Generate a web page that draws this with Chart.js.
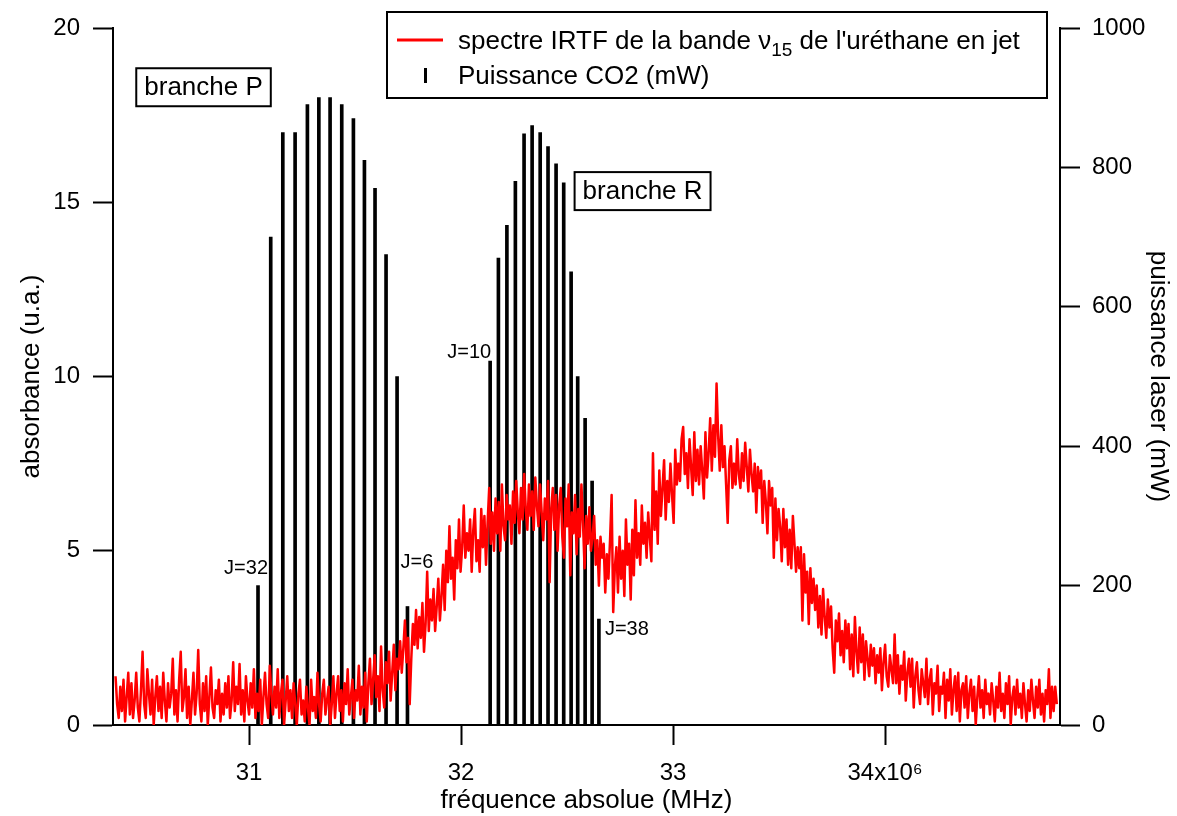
<!DOCTYPE html>
<html>
<head>
<meta charset="utf-8">
<script src="https://cdn.jsdelivr.net/npm/chart.js@4.4.0/dist/chart.umd.min.js"></script>
<style>
  html, body { margin: 0; padding: 0; background: #fff; }
</style>
</head>
<body>
<canvas id="myChart" width="1177" height="816"></canvas>
<script>
// spectre IRTF : grille en fréquence (x10^6 MHz) et absorbance
var freqStart = 30.37;
var freqStep = 0.0075;
var absorbance = [
  1.4, 0.6, 0.2, 1.1, 0.4, 1.3, 0.1, 0.8, 1.5, 0.3,
  1.2, 0.2, 0.7, 1.5, 0.5, 0.1, 1.0, 2.1, 0.6, 0.2,
  1.6, 0.9, 0.3, 1.3, 0.0, 0.8, 1.4, 0.4, 1.1, 0.2,
  1.5, 0.7, 0.1, 1.2, 0.5, 0.9, 1.9, 0.3, 1.0, 0.1,
  1.3, 2.1, 0.4, 0.8, 1.6, 0.2, 1.1, 0.0, 0.7, 1.5,
  0.3, 0.9, 2.15, 0.6, 0.1, 1.2, 0.4, 1.4, 0.0, 0.8,
  1.65, 0.5, 0.2, 1.0, 0.6, 1.3, 0.1, 0.9, 0.3, 1.2,
  0.5, 1.4, 0.2, 0.7, 1.8, 0.4, 1.1, 0.6, 1.75, 0.3,
  1.0, 0.1, 1.4, 0.7, 0.3, 1.2, 0.5, 1.6, 0.2, 0.9,
  0.4, 1.3, 0.0, 0.8, 1.5, 0.6, 0.2, 1.7, 0.9, 0.3,
  1.1, 0.5, 1.6, 0.2, 0.9, 1.3, 0.0, 0.7, 1.4, 0.4,
  1.0, 0.2, 1.2, 0.6, 0.0, 0.9, 1.3, 0.3, 0.7, 0.1,
  1.1, 0.5, 0.0, 1.3, 0.4, 0.8, 0.2, 1.5, 0.6, 0.1,
  0.9, 1.3, 0.3, 0.7, 1.1, 0.0, 0.6, 1.4, 0.2, 0.9,
  1.4, 0.4, 1.0, 0.1, 1.2, 0.6, 1.6, 0.3, 0.8, 1.3,
  0.2, 1.0, 0.7, 1.7, 0.3, 1.1, 0.5, 1.5, 0.1, 1.2,
  1.9, 0.6, 1.3, 2.0, 0.8, 1.4, 0.4, 2.25, 1.0, 0.5,
  1.8, 1.2, 2.1, 0.7, 1.5, 2.3, 1.0, 1.9, 1.6, 2.4,
  1.5, 2.2, 3.0, 1.8, 2.5, 0.6, 1.9, 2.9, 2.3, 3.3,
  2.2, 3.1, 2.5, 3.5, 2.1, 2.9, 4.4, 2.7, 3.6, 3.0,
  3.9, 2.7, 3.4, 4.2, 3.0, 3.7, 4.6, 3.3, 5.0, 4.1,
  5.7, 4.2, 4.8, 3.6, 5.3, 4.5, 5.9, 4.4, 5.1, 6.3,
  4.8, 5.5, 5.0, 5.9, 4.4, 5.6, 6.2, 4.7, 5.3, 4.4,
  6.2, 5.1, 6.0, 4.6, 5.8, 6.8, 5.2, 6.1, 5.0, 6.5,
  5.5, 6.4, 5.0, 6.9, 5.7, 5.3, 6.6, 5.9, 6.3, 5.2,
  6.7, 5.8, 7.0, 6.1, 5.5, 6.8, 5.9, 7.2, 6.2, 5.6,
  6.9, 6.0, 6.7, 5.6, 7.1, 6.3, 5.7, 6.9, 6.1, 5.3,
  6.5, 5.9, 7.0, 4.1, 6.2, 6.8, 5.6, 6.6, 5.0, 6.3,
  6.8, 5.4, 4.8, 6.5, 5.7, 6.9, 4.3, 6.1, 5.5, 6.6,
  4.9, 6.2, 5.4, 6.9, 5.8, 4.5, 6.0, 5.2, 6.25, 5.0,
  5.4, 6.0, 4.6, 5.3, 4.0, 5.4, 4.8, 5.2, 3.8, 4.9,
  4.2, 5.3, 6.6, 3.24, 4.5, 5.1, 3.8, 5.4, 4.2, 5.0,
  3.7, 5.9, 4.6, 5.2, 3.6, 5.6, 4.3, 6.45, 4.8, 5.5,
  4.6, 6.3, 5.2, 5.8, 4.8, 6.1, 5.4, 4.7, 7.8, 5.6,
  6.7, 5.2, 7.3, 6.0, 6.8, 7.6, 5.9, 7.0, 6.4, 7.5,
  6.6, 5.8, 7.9, 6.9, 7.5, 7.0, 8.2, 8.55, 7.2, 7.8,
  6.8, 8.2, 7.4, 6.6, 8.4, 7.0, 7.9, 6.9, 8.0, 7.3,
  6.5, 8.4, 7.1, 7.8, 8.8, 7.3, 8.6, 7.7, 9.8, 8.3,
  7.3, 8.6, 7.4, 8.0, 6.9, 5.8, 7.6, 8.0, 6.8, 7.5,
  6.9, 8.2, 7.2, 6.8, 7.8, 7.0, 8.1, 7.4, 6.7, 7.9,
  7.2, 6.7, 7.5, 6.1, 7.4, 6.8, 7.3, 5.8, 7.0, 6.4,
  5.5, 7.0, 6.3, 6.8, 4.8, 6.5, 5.3, 6.2, 5.7, 4.7,
  6.2, 5.1, 5.9, 4.6, 5.6, 4.5, 6.0, 5.2, 4.4, 5.1,
  4.5, 5.1, 3.0, 4.9, 3.8, 4.4, 2.9, 4.5, 3.5, 4.2,
  3.3, 4.0, 2.8, 3.7, 2.6, 3.9, 3.1, 2.5, 3.6, 2.8,
  3.4, 2.2, 1.5, 3.0, 2.4, 3.2, 2.0, 2.7, 1.8, 3.0,
  2.2, 2.9, 1.6, 2.6, 1.4, 3.1, 2.1, 1.5, 2.8, 1.8,
  2.6, 1.3, 2.4, 1.9, 1.4, 2.3, 1.7, 2.2, 1.2, 2.0,
  1.5, 2.2, 1.0, 1.8, 2.3, 1.4, 1.1, 2.0, 1.6, 1.2,
  2.6, 1.2, 2.0, 0.9, 1.7, 1.3, 2.1, 0.7, 1.5, 1.9,
  1.1, 1.9, 0.5, 1.4, 1.8, 1.0, 0.6, 1.6, 1.2, 0.8,
  1.9, 0.6, 1.3, 1.6, 0.3, 1.2, 0.9, 1.7, 0.4, 1.1,
  0.9, 1.5, 0.2, 1.3, 0.7, 1.6, 0.3, 1.0, 1.4, 0.4,
  1.5, 0.1, 1.0, 1.2, 0.5, 1.4, 0.2, 0.9, 1.3, 0.4,
  1.1, 0.0, 0.8, 1.4, 0.5, 1.0, 0.2, 1.3, 0.6, 0.9,
  0.3, 1.2, 0.7, 0.1, 1.1, 0.5, 1.5, 0.4, 0.9, 0.2,
  1.2, 0.6, 1.4, 0.0, 0.8, 1.1, 0.3, 1.3, 0.5, 0.9,
  0.2, 1.2, 0.6, 0.1, 1.0, 0.4, 1.3, 0.7, 0.2, 1.1,
  0.5, 1.3, 0.3, 0.9, 0.1, 1.0, 0.6, 1.6, 0.2, 1.1,
  0.4, 1.1, 0.6
];

// raies du laser CO2 (branche P puis branche R)
var co2Freq = [
  31.042, 31.102, 31.159, 31.217, 31.275, 31.329, 31.382, 31.437, 31.492, 31.544, 31.594, 31.646, 31.698, 31.747,
  32.137, 32.176, 32.216, 32.256, 32.297, 32.335, 32.373, 32.410, 32.448, 32.484, 32.519, 32.550, 32.585, 32.618, 32.650
];
var co2Power = [
  200, 700, 850, 850, 890, 900, 900, 890, 870, 810, 770, 675, 500, 170,
  522, 670, 717, 780, 848, 860, 850, 830, 805, 778, 650, 500, 440, 350, 152
];
var jLabelText = ['J=32', 'J=6', 'J=10', 'J=38'];
var jLabelBar = [0, 13, 14, 28];

var freqTicks = [31, 32, 33, 34];
var absTicks = [0, 5, 10, 15, 20];
var powerTicks = [0, 200, 400, 600, 800, 1000];

var FONT = '"Liberation Sans", Arial, sans-serif';
Chart.defaults.font.family = FONT;
Chart.defaults.color = '#000';

var spectrum = absorbance.map(function(v, i) {
    return {x: freqStart + i * freqStep, y: v};
});
var co2Points = co2Freq.map(function(f, i) {
    return {x: f, y: co2Power[i]};
});

function boxLabel(ctx, text, cx, cy) {
    ctx.font = '26px ' + FONT;
    var w = ctx.measureText(text).width + 16;
    var h = 38;
    ctx.fillStyle = '#fff';
    ctx.fillRect(cx - w / 2, cy - h / 2, w, h);
    ctx.strokeStyle = '#000';
    ctx.lineWidth = 2;
    ctx.strokeRect(cx - w / 2, cy - h / 2, w, h);
    ctx.fillStyle = '#000';
    ctx.textAlign = 'center';
    ctx.textBaseline = 'middle';
    ctx.fillText(text, cx, cy + 1);
}

var annotations = {
    id: 'annotations',
    afterDatasetsDraw: function(chart) {
        var ctx = chart.ctx;
        var xs = chart.scales.x, ya = chart.scales.y, yp = chart.scales.y1;
        ctx.save();

        // étiquettes J au-dessus des raies
        var align = ['right', 'left', 'right', 'left'];
        var dx = [10, -7, 1, 6];
        var dy = [-12, -39, -3, 16];
        ctx.font = '20px ' + FONT;
        ctx.fillStyle = '#000';
        ctx.textBaseline = 'alphabetic';
        for (var k = 0; k < jLabelText.length; k++) {
            var b = jLabelBar[k];
            var px = xs.getPixelForValue(co2Freq[b]);
            var py = yp.getPixelForValue(co2Power[b]);
            ctx.textAlign = align[k];
            ctx.fillText(jLabelText[k], px + dx[k], py + dy[k]);
        }

        boxLabel(ctx, 'branche P', xs.getPixelForValue(30.785), ya.getPixelForValue(18.3));
        boxLabel(ctx, 'branche R', xs.getPixelForValue(32.856), ya.getPixelForValue(15.32));

        // légende
        var a = chart.chartArea;
        var lx = a.right - 673, ly = 12, lw = 660, lh = 86;
        ctx.fillStyle = '#fff';
        ctx.fillRect(lx, ly, lw, lh);
        ctx.strokeStyle = '#000';
        ctx.lineWidth = 2;
        ctx.strokeRect(lx, ly, lw, lh);

        ctx.strokeStyle = '#ff0000';
        ctx.lineWidth = 3;
        ctx.beginPath();
        ctx.moveTo(lx + 10, ly + 28);
        ctx.lineTo(lx + 56, ly + 28);
        ctx.stroke();
        ctx.fillStyle = '#000';
        ctx.fillRect(lx + 37, ly + 56, 3, 15);

        ctx.textAlign = 'left';
        ctx.textBaseline = 'alphabetic';
        var tx = lx + 71;
        var parts = ['spectre IRTF de la bande \u03bd', '15', " de l'uréthane en jet"];
        ctx.font = '26px ' + FONT;
        ctx.fillText(parts[0], tx, ly + 37);
        tx += ctx.measureText(parts[0]).width;
        ctx.font = '19px ' + FONT;
        ctx.fillText(parts[1], tx, ly + 44);
        tx += ctx.measureText(parts[1]).width;
        ctx.font = '26px ' + FONT;
        ctx.fillText(parts[2], tx, ly + 37);
        ctx.fillText('Puissance CO2 (mW)', lx + 71, ly + 72);
        ctx.restore();
    }
};

function axisStyle() {
    return {
        grid: {drawOnChartArea: false, drawTicks: true, tickLength: 20, tickWidth: 2, tickColor: '#000', offset: false},
        border: {display: true, color: '#000', width: 2}
    };
}

var xAxis = axisStyle();
xAxis.type = 'linear';
xAxis.position = 'bottom';
xAxis.min = 30.358;
xAxis.max = 34.825;
xAxis.offset = false;
xAxis.afterBuildTicks = function(s) { s.ticks = freqTicks.map(function(v) { return {value: v}; }); };
xAxis.afterFit = function(s) { s.height = 91; };
xAxis.ticks = {
    font: {size: 24}, padding: 14, maxRotation: 0, autoSkip: false,
    callback: function(v) { return v === 34 ? '34x10\u2076' : String(v); }
};
xAxis.title = {display: true, text: 'fréquence absolue (MHz)', font: {size: 26}, padding: {top: 0, bottom: 0}};

var yAxis = axisStyle();
yAxis.position = 'left';
yAxis.min = 0;
yAxis.max = 20;
yAxis.afterBuildTicks = function(s) { s.ticks = absTicks.map(function(v) { return {value: v}; }); };
yAxis.afterFit = function(s) { s.width = 113; };
yAxis.ticks = {font: {size: 24}, padding: 13, callback: function(v) { return String(v); }};
yAxis.title = {display: true, text: 'absorbance (u.a.)', font: {size: 26}, padding: {top: 16, bottom: 0}};

var y1Axis = axisStyle();
y1Axis.position = 'right';
y1Axis.min = 0;
y1Axis.max = 1000;
y1Axis.afterBuildTicks = function(s) { s.ticks = powerTicks.map(function(v) { return {value: v}; }); };
y1Axis.afterFit = function(s) { s.width = 117; };
y1Axis.ticks = {font: {size: 24}, padding: 12, callback: function(v) { return String(v); }};
y1Axis.title = {display: true, text: 'puissance laser (mW)', font: {size: 26}, padding: {top: 3, bottom: 0}};

var ctx = document.getElementById('myChart').getContext('2d');
var chart = new Chart(ctx, {
    type: 'line',
    data: {
        datasets: [{
            type: 'line',
            label: "spectre IRTF de la bande \u03bd15 de l'uréthane en jet",
            data: spectrum,
            borderColor: '#ff0000',
            borderWidth: 2.5,
            borderJoinStyle: 'round',
            pointRadius: 0,
            tension: 0,
            yAxisID: 'y',
            order: 0
        }, {
            type: 'bar',
            label: 'Puissance CO2 (mW)',
            data: co2Points,
            backgroundColor: '#000',
            barThickness: 3,
            yAxisID: 'y1',
            order: 1
        }]
    },
    options: {
        responsive: false,
        animation: false,
        layout: {padding: {top: 28, left: 0, right: 0, bottom: 0}},
        plugins: {legend: {display: false}, tooltip: {enabled: false}},
        scales: {x: xAxis, y: yAxis, y1: y1Axis}
    },
    plugins: [annotations]
});
</script>
</body>
</html>
